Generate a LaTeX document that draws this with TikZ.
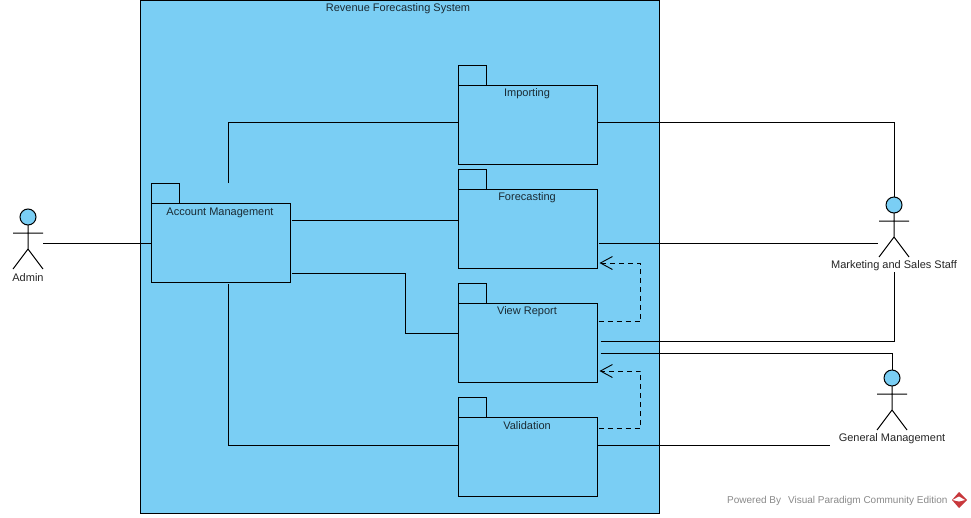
\documentclass[tikz,border=0pt]{standalone}
\usepackage{fontspec}
\setmainfont{Liberation Sans}
\usetikzlibrary{arrows.meta}
\definecolor{vpblue}{HTML}{7ACEF4}
\definecolor{vptext}{HTML}{1A2A33}
\definecolor{wmgray}{HTML}{8A8A8A}
\definecolor{wmred}{HTML}{C8383C}
\tikzset{
  x=1pt,y=-1pt,
  line/.style={draw=black,line width=1pt},
  pkgbody/.style={draw=black,fill=vpblue,line width=1pt,minimum width=139pt,minimum height=79pt,inner sep=0pt,outer sep=0pt},
  pkgtab/.style={draw=black,fill=vpblue,line width=1pt,minimum width=28pt,minimum height=20pt,inner sep=0pt,outer sep=0pt},
  pkgtext/.style={font=\fontsize{11}{13}\selectfont,text=vptext,inner sep=0pt},
  actortext/.style={font=\fontsize{11}{13}\selectfont,text=black!85,inner sep=1pt,fill=white},
  head/.style={circle,draw=black,fill=vpblue,line width=1pt,minimum size=16pt,inner sep=0pt,outer sep=0pt},
  assoc/.style={draw=black,line width=1pt},
  dep/.style={draw=black,line width=0.9pt,dash pattern=on 5pt off 4pt,-{Straight Barb[length=12pt,width=13pt,line width=0.9pt]}},
}
\newcommand{\pkg}[4]{% name, left, top of body, label
  \node[pkgtab,anchor=south west] (#1tab) at (#2,#3) {};
  \node[pkgbody,anchor=north west] (#1) at (#2,#3) {};
  \node[pkgtext] (#1label) at (#2+68.5,#3+9) {#4};
}
\newcommand{\actorfig}[4]{% name, head x, head y, label
  \draw[line] (#2,#3+8) -- (#2,#3+32) (#2-15,#3+16) -- (#2+15,#3+16)
     (#2-15,#3+52) -- (#2,#3+32) -- (#2+15,#3+52);
  \node[head] (#1) at (#2,#3) {};
  \node[actortext] (#1label) at (#2,#3+61) {#4};
}
\begin{document}
\begin{tikzpicture}
\useasboundingbox (0,0) rectangle (971,517);
\fill[white] (0,0) rectangle (971,517);
\node[draw=black,fill=vpblue,line width=1pt,minimum width=518.5pt,minimum height=513pt,inner sep=0pt,outer sep=0pt,anchor=north west] (sys) at (140.5,0) {};
\node[pkgtext,text=vptext] (systitle) at (398,9) {Revenue Forecasting System};

\pkg{imp}{458.5}{85}{Importing}
\pkg{fore}{458.5}{189}{Forecasting}
\pkg{view}{458.5}{303}{View Report}
\pkg{valid}{458.5}{417}{Validation}
\pkg{acct}{151.5}{203.5}{Account Management}

\actorfig{admin}{28}{217}{Admin}
\actorfig{mkt}{894}{205}{Marketing and Sales Staff}
\actorfig{gm}{892}{378}{General Management}

\coordinate (adminhand) at (43,243);
\coordinate (mkthand) at (878,243.5);
\coordinate (gmside) at (830,445.5);
\coordinate (acctup) at (228,183);
\coordinate (acctdown) at (228,284);

\draw[assoc] (adminhand) -- (acct.west);
\draw[assoc] (acctup) -- (228,122) -- ([yshift=2.5pt]imp.west);
\draw[assoc] ([xshift=1pt,yshift=23pt]acct.east) -- ([yshift=8.5pt]fore.west);
\draw[assoc] ([xshift=1pt,yshift=-30pt]acct.east) -- (405,273) -- (405,333.5) -- ([yshift=9pt]view.west);
\draw[assoc] (acctdown) -- (228,445.5) -- ([yshift=11pt]valid.west);
\draw[assoc] ([yshift=2.5pt]imp.east) -- (894,122) -- (mkt.north);
\draw[assoc] ([xshift=1pt,yshift=-15pt]fore.east) -- (mkthand);
\draw[assoc] ([xshift=3pt,yshift=1pt]view.east) -- (894,341.5) -- (mktlabel.south);
\draw[assoc] ([xshift=3pt,yshift=-11pt]view.east) -- (892,353.5) -- (gm.north);
\draw[assoc] ([yshift=11pt]valid.east) -- (gmside);
\draw[dep] ([xshift=1pt,yshift=-18.5pt]view.north east) -- (640.5,321.5) -- (640.5,263) -- ([xshift=2pt,yshift=5pt]fore.south east);
\draw[dep] ([xshift=1pt,yshift=-11pt]valid.north east) -- (640.5,428) -- (640.5,371) -- ([xshift=2pt,yshift=11pt]view.south east);

\node[font=\fontsize{10}{12}\selectfont,text=wmgray,anchor=west,inner sep=0pt] (wm) at (727,501) {Powered By\hspace{7pt}Visual Paradigm Community Edition};
\fill[wmred] (959,492) -- (967,500) -- (959,508) -- (952,500) -- cycle;
\fill[white] (952.5,500) -- (959,496.5) -- (965,500) -- (959,501.5) -- cycle;
\end{tikzpicture}
\end{document}
